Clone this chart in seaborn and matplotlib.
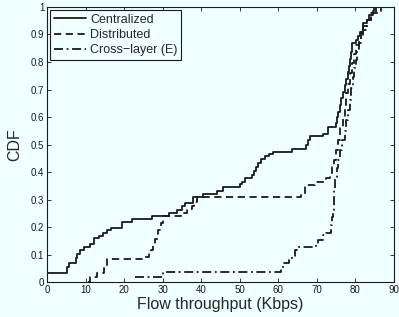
import matplotlib
matplotlib.use("Agg")
import matplotlib.pyplot as plt
import seaborn as sns

# step points of each CDF: (jump position, level after the jump)
cent_x = [0, 5.1, 5.8, 7.4, 7.8, 8.6, 9.7, 11.2, 12.2, 13.4, 14.5, 15.5, 16.6,
          19.5, 22.0, 27.2, 31.7, 33.8, 34.9, 35.8, 37.9, 40.5, 44.0, 45.7,
          50.2, 50.6, 51.5, 53.1, 53.6, 54.3, 54.8, 55.5, 56.5, 57.5, 58.6,
          63.5, 67.3, 67.8, 68.3, 71.7, 72.8, 74.9, 75.2, 75.6, 76.0, 76.4,
          76.8, 77.2, 77.6, 78.0, 78.3, 78.6, 78.9, 79.2, 80.3, 80.8, 81.2,
          81.9, 83.1, 83.6, 84.5, 84.8, 90]
cent_y = [0.034, 0.054, 0.07, 0.088, 0.103, 0.115, 0.127, 0.139, 0.16, 0.168,
          0.178, 0.19, 0.198, 0.219, 0.23, 0.242, 0.25, 0.262, 0.276, 0.288,
          0.308, 0.32, 0.332, 0.344, 0.355, 0.365, 0.377, 0.39, 0.405, 0.42,
          0.434, 0.446, 0.458, 0.465, 0.474, 0.485, 0.50, 0.515, 0.531, 0.54,
          0.565, 0.58, 0.60, 0.62, 0.645, 0.67, 0.69, 0.715, 0.74, 0.765,
          0.785, 0.81, 0.835, 0.868, 0.88, 0.895, 0.91, 0.94, 0.953, 0.97,
          0.985, 1.0, 1.0]

dist_x = [10.5, 11.2, 12.9, 14.7, 15.5, 25.4, 26.5, 27.0, 27.6, 28.0, 28.8,
          29.5, 30.0, 34.8, 36.3, 37.5, 38.2, 38.8, 66.0, 66.9, 69.6, 72.5,
          73.4, 74.0, 74.4, 75.0, 75.6, 76.1, 76.7, 77.2, 77.7, 78.2, 78.7,
          79.2, 79.7, 80.3, 81.0, 81.5, 82.0, 83.0, 84.2, 86.8, 90]
dist_y = [0.0, 0.017, 0.033, 0.05, 0.083, 0.093, 0.105, 0.117, 0.14, 0.155,
          0.19, 0.215, 0.24, 0.252, 0.265, 0.276, 0.29, 0.31, 0.322, 0.353,
          0.365, 0.38, 0.395, 0.42, 0.444, 0.48, 0.516, 0.56, 0.60, 0.645,
          0.686, 0.72, 0.76, 0.795, 0.83, 0.86, 0.88, 0.905, 0.93, 0.953,
          0.977, 1.0, 1.0]

cross_x = [22.8, 30.2, 60.6, 61.5, 62.7, 63.6, 64.3, 65.0, 69.8, 70.3, 71.5,
           72.5, 73.6, 74.0, 74.3, 74.5, 74.6, 74.8, 75.2, 75.5, 76.0, 76.6,
           77.2, 77.7, 78.2, 78.6, 79.0, 79.3, 79.7, 80.1, 80.5, 81.0, 81.5,
           82.1, 83.0, 84.0, 85.5, 90]
cross_y = [0.017, 0.035, 0.056, 0.068, 0.08, 0.095, 0.116, 0.126, 0.14, 0.153,
           0.17, 0.18, 0.207, 0.235, 0.262, 0.30, 0.335, 0.383, 0.415, 0.444,
           0.48, 0.516, 0.55, 0.589, 0.625, 0.662, 0.705, 0.747, 0.777, 0.807,
           0.84, 0.868, 0.89, 0.916, 0.953, 0.977, 1.0, 1.0]

series = [("Centralized", cent_x, cent_y, "-"),
          ("Distributed", dist_x, dist_y, (0, (4, 2.5))),
          ("Cross\u2212layer (E)", cross_x, cross_y, (0, (5, 2, 1, 2)))]

sns.set_theme(style="ticks")
bg = "#f0ffff"
plt.rcParams["font.family"] = ["Liberation Sans", "DejaVu Sans"]

fig = plt.figure(figsize=(3.99, 3.17), dpi=100, facecolor=bg)
ax = fig.add_axes([0.118, 0.110, 0.869, 0.868], facecolor=bg)

for name, xs, ys, ls in series:
    sns.lineplot(x=xs, y=ys, ax=ax, color="k", linestyle=ls, lw=1.3,
                 drawstyle="steps-post", sort=False, estimator=None, label=name)

ax.set_xlim(0, 90)
ax.set_ylim(0, 1)
ax.set_xticks(range(0, 91, 10))
ax.set_yticks([i / 10 for i in range(11)])
ax.set_yticklabels(["0", "0.1", "0.2", "0.3", "0.4", "0.5", "0.6", "0.7", "0.8", "0.9", "1"])
ax.tick_params(direction="in", top=True, right=True, length=3, width=0.6,
               labelsize=7, pad=2, colors="k")
for s in ax.spines.values():
    s.set_linewidth(0.8)
    s.set_color("k")

ax.set_xlabel("Flow throughput (Kbps)", fontsize=11.5, labelpad=1.5)
ax.set_ylabel("CDF", fontsize=11.5, labelpad=6)

leg = ax.legend(loc="upper left", fontsize=9, frameon=True, fancybox=False,
                edgecolor="k", facecolor=bg, framealpha=1, handlelength=2.6,
                handletextpad=0.3, borderpad=0.3, labelspacing=0.25,
                borderaxespad=0.25)
leg.get_frame().set_linewidth(0.8)

fig.savefig("out.png", dpi=100, facecolor=bg)
